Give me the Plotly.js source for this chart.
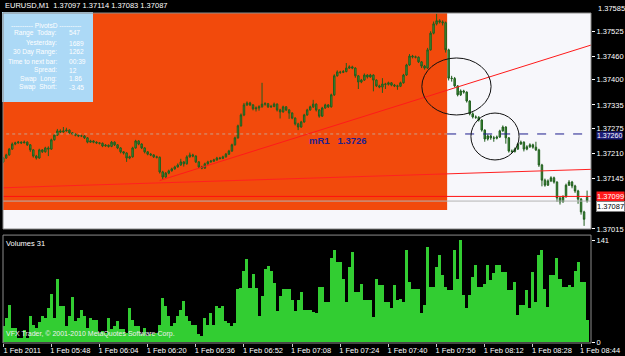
<!DOCTYPE html>
<html>
<head>
<meta charset="utf-8">
<script src="https://cdn.plot.ly/plotly-3.0.1.min.js"></script>
<style>html,body{margin:0;padding:0;background:#000;}#chart{width:625px;height:356px;}</style>
</head>
<body>
<div id="chart"></div>
<script>
const DAY = '2011-02-01 ';
const times = ['05:32','05:33','05:34','05:35','05:36','05:37','05:38','05:39','05:40','05:41','05:42','05:43','05:44','05:45','05:46','05:47','05:48','05:49','05:50','05:51','05:52','05:53','05:54','05:55','05:56','05:57','05:58','05:59',
'06:00','06:01','06:02','06:03','06:04','06:05','06:06','06:07','06:08','06:09','06:10','06:11','06:12','06:13','06:14','06:15','06:16','06:17','06:18','06:19','06:20','06:21','06:22','06:23','06:24','06:25','06:26','06:27','06:28','06:29','06:30','06:31','06:32','06:33','06:34','06:35','06:36','06:37','06:38','06:39','06:40','06:41','06:42','06:43','06:44','06:45','06:46','06:47','06:48','06:49','06:50','06:51','06:52','06:53','06:54','06:55','06:56','06:57','06:58','06:59',
'07:00','07:01','07:02','07:03','07:04','07:05','07:06','07:07','07:08','07:09','07:10','07:11','07:12','07:13','07:14','07:15','07:16','07:17','07:18','07:19','07:20','07:21','07:22','07:23','07:24','07:25','07:26','07:27','07:28','07:29','07:30','07:31','07:32','07:33','07:34','07:35','07:36','07:37','07:38','07:39','07:40','07:41','07:42','07:43','07:44','07:45','07:46','07:47','07:48','07:49','07:50','07:51','07:52','07:53','07:54','07:55','07:56','07:57','07:58','07:59',
'08:00','08:01','08:02','08:03','08:04','08:05','08:06','08:07','08:08','08:09','08:10','08:11','08:12','08:13','08:14','08:15','08:16','08:17','08:18','08:19','08:20','08:21','08:22','08:23','08:24','08:25','08:26','08:27','08:28','08:29','08:30','08:31','08:32','08:33','08:34','08:35','08:36','08:37','08:38','08:39','08:40','08:41','08:42','08:43','08:44','08:45','08:46'];

const openP = [1.37188,1.37198,1.37206,1.37221,1.37234,1.37237,1.37239,1.37237,1.37239,1.37232,
1.37219,1.37203,1.37198,1.37219,1.37214,1.37224,1.37221,1.37245,1.37257,1.37268,
1.37265,1.37268,1.37270,1.37263,1.37260,1.37257,1.37255,1.37255,1.37250,1.37239,
1.37242,1.37239,1.37237,1.37236,1.37229,1.37231,1.37228,1.37239,1.37232,1.37224,
1.37214,1.37211,1.37198,1.37201,1.37224,1.37242,1.37234,1.37224,1.37214,1.37208,
1.37206,1.37201,1.37200,1.37162,1.37149,1.37159,1.37165,1.37170,1.37175,1.37180,
1.37188,1.37183,1.37201,1.37206,1.37203,1.37188,1.37175,1.37172,1.37183,1.37188,
1.37190,1.37193,1.37198,1.37197,1.37201,1.37208,1.37216,1.37232,1.37250,1.37281,
1.37309,1.37335,1.37340,1.37335,1.37325,1.37327,1.37330,1.37337,1.37338,1.37330,
1.37331,1.37337,1.37322,1.37317,1.37330,1.37322,1.37314,1.37301,1.37286,1.37278,
1.37291,1.37309,1.37322,1.37330,1.37337,1.37322,1.37306,1.37327,1.37335,1.37330,
1.37361,1.37410,1.37420,1.37419,1.37421,1.37430,1.37433,1.37430,1.37410,1.37394,
1.37399,1.37412,1.37407,1.37412,1.37399,1.37384,1.37381,1.37389,1.37388,1.37392,
1.37386,1.37384,1.37383,1.37392,1.37412,1.37438,1.37461,1.37459,1.37458,1.37446,
1.37435,1.37430,1.37477,1.37520,1.37544,1.37552,1.37549,1.37547,1.37477,1.37404,
1.37403,1.37384,1.37361,1.37371,1.37368,1.37345,1.37312,1.37304,1.37303,1.37296,
1.37270,1.37247,1.37255,1.37250,1.37249,1.37252,1.37268,1.37278,1.37250,1.37216,
1.37215,1.37221,1.37234,1.37239,1.37221,1.37227,1.37232,1.37226,1.37219,1.37180,
1.37141,1.37128,1.37139,1.37147,1.37136,1.37095,1.37085,1.37098,1.37128,1.37136,
1.37126,1.37113,1.37092,1.37059,1.37097];

const highP = [1.37201,1.37209,1.37224,1.37238,1.37240,1.37242,1.37241,1.37243,1.37241,1.37234,
1.37221,1.37206,1.37222,1.37221,1.37227,1.37228,1.37248,1.37260,1.37273,1.37272,
1.37278,1.37276,1.37272,1.37265,1.37262,1.37259,1.37258,1.37257,1.37252,1.37245,
1.37244,1.37241,1.37239,1.37238,1.37234,1.37233,1.37242,1.37241,1.37234,1.37226,
1.37216,1.37213,1.37204,1.37227,1.37245,1.37244,1.37236,1.37226,1.37216,1.37211,
1.37208,1.37204,1.37202,1.37165,1.37162,1.37168,1.37173,1.37178,1.37184,1.37196,
1.37190,1.37205,1.37212,1.37209,1.37205,1.37190,1.37178,1.37186,1.37191,1.37193,
1.37196,1.37201,1.37201,1.37204,1.37211,1.37219,1.37235,1.37253,1.37284,1.37313,
1.37340,1.37344,1.37343,1.37337,1.37331,1.37334,1.37392,1.37342,1.37340,1.37335,
1.37341,1.37339,1.37325,1.37333,1.37332,1.37324,1.37316,1.37303,1.37289,1.37294,
1.37312,1.37325,1.37333,1.37348,1.37339,1.37324,1.37330,1.37338,1.37337,1.37364,
1.37414,1.37424,1.37423,1.37425,1.37443,1.37437,1.37436,1.37432,1.37412,1.37402,
1.37416,1.37414,1.37415,1.37414,1.37401,1.37387,1.37404,1.37392,1.37395,1.37394,
1.37389,1.37387,1.37395,1.37415,1.37441,1.37466,1.37464,1.37462,1.37460,1.37448,
1.37438,1.37482,1.37525,1.37550,1.37570,1.37556,1.37553,1.37550,1.37480,1.37410,
1.37407,1.37386,1.37375,1.37374,1.37370,1.37347,1.37316,1.37308,1.37306,1.37298,
1.37272,1.37259,1.37258,1.37255,1.37256,1.37271,1.37282,1.37280,1.37252,1.37220,
1.37225,1.37237,1.37243,1.37241,1.37231,1.37236,1.37235,1.37240,1.37222,1.37183,
1.37145,1.37143,1.37151,1.37150,1.37138,1.37098,1.37102,1.37132,1.37141,1.37139,
1.37129,1.37116,1.37095,1.37062,1.37114];

const lowP = [1.37185,1.37196,1.37204,1.37219,1.37231,1.37235,1.37234,1.37236,1.37229,1.37214,
1.37199,1.37194,1.37196,1.37211,1.37212,1.37203,1.37219,1.37243,1.37255,1.37262,
1.37263,1.37266,1.37260,1.37257,1.37254,1.37252,1.37252,1.37247,1.37236,1.37237,
1.37236,1.37234,1.37233,1.37226,1.37227,1.37225,1.37226,1.37229,1.37221,1.37210,
1.37207,1.37188,1.37195,1.37199,1.37222,1.37231,1.37221,1.37210,1.37205,1.37203,
1.37198,1.37197,1.37158,1.37142,1.37147,1.37156,1.37163,1.37168,1.37173,1.37178,
1.37176,1.37181,1.37199,1.37200,1.37185,1.37172,1.37169,1.37170,1.37181,1.37186,
1.37188,1.37191,1.37194,1.37195,1.37199,1.37206,1.37214,1.37230,1.37248,1.37279,
1.37306,1.37332,1.37332,1.37321,1.37318,1.37320,1.37328,1.37333,1.37327,1.37327,
1.37329,1.37318,1.37300,1.37315,1.37319,1.37299,1.37298,1.37282,1.37270,1.37276,
1.37289,1.37307,1.37320,1.37327,1.37318,1.37302,1.37304,1.37325,1.37327,1.37328,
1.37358,1.37408,1.37415,1.37417,1.37419,1.37428,1.37427,1.37405,1.37376,1.37391,
1.37397,1.37403,1.37405,1.37370,1.37381,1.37378,1.37366,1.37376,1.37385,1.37383,
1.37381,1.37374,1.37381,1.37390,1.37410,1.37436,1.37455,1.37455,1.37443,1.37430,
1.37426,1.37428,1.37475,1.37517,1.37540,1.37545,1.37540,1.37470,1.37398,1.37395,
1.37380,1.37357,1.37358,1.37364,1.37341,1.37308,1.37300,1.37299,1.37292,1.37266,
1.37240,1.37243,1.37245,1.37240,1.37246,1.37250,1.37266,1.37235,1.37212,1.37211,
1.37212,1.37219,1.37232,1.37215,1.37218,1.37224,1.37222,1.37216,1.37175,1.37125,
1.37124,1.37126,1.37136,1.37132,1.37085,1.37078,1.37083,1.37096,1.37126,1.37120,
1.37108,1.37080,1.37052,1.37023,1.37083];

const closeP = [1.37198,1.37206,1.37221,1.37234,1.37237,1.37239,1.37237,1.37239,1.37232,1.37219,
1.37203,1.37198,1.37219,1.37214,1.37224,1.37221,1.37245,1.37257,1.37268,1.37265,
1.37268,1.37270,1.37263,1.37260,1.37257,1.37255,1.37255,1.37250,1.37239,1.37242,
1.37239,1.37237,1.37236,1.37229,1.37231,1.37228,1.37239,1.37232,1.37224,1.37214,
1.37211,1.37198,1.37201,1.37224,1.37242,1.37234,1.37224,1.37214,1.37208,1.37206,
1.37201,1.37200,1.37162,1.37149,1.37159,1.37165,1.37170,1.37175,1.37180,1.37188,
1.37183,1.37201,1.37206,1.37203,1.37188,1.37175,1.37172,1.37183,1.37188,1.37190,
1.37193,1.37198,1.37197,1.37201,1.37208,1.37216,1.37232,1.37250,1.37281,1.37309,
1.37335,1.37340,1.37335,1.37325,1.37327,1.37330,1.37337,1.37338,1.37330,1.37331,
1.37337,1.37322,1.37317,1.37330,1.37322,1.37314,1.37301,1.37286,1.37278,1.37291,
1.37309,1.37322,1.37330,1.37337,1.37322,1.37306,1.37327,1.37335,1.37330,1.37361,
1.37410,1.37420,1.37419,1.37421,1.37430,1.37433,1.37430,1.37410,1.37394,1.37399,
1.37412,1.37407,1.37412,1.37399,1.37384,1.37381,1.37389,1.37388,1.37392,1.37386,
1.37384,1.37383,1.37392,1.37412,1.37438,1.37461,1.37459,1.37458,1.37446,1.37435,
1.37430,1.37477,1.37520,1.37544,1.37552,1.37549,1.37547,1.37477,1.37404,1.37403,
1.37384,1.37361,1.37371,1.37368,1.37345,1.37312,1.37304,1.37303,1.37296,1.37270,
1.37247,1.37255,1.37250,1.37249,1.37252,1.37268,1.37278,1.37250,1.37216,1.37215,
1.37221,1.37234,1.37239,1.37221,1.37227,1.37232,1.37226,1.37219,1.37180,1.37141,
1.37128,1.37139,1.37147,1.37136,1.37095,1.37085,1.37098,1.37128,1.37136,1.37126,
1.37113,1.37092,1.37059,1.37040,1.37087];

const volumes = [22,34,52,20,20,6,6,17,6,36, 24,20,28,36,34,47,67,34,88,50,
50,22,36,62,29,34,45,36,20,34, 31,31,13,15,13,34,18,22,29,18,
18,13,47,31,22,22,11,20,8,11, 11,13,24,61,50,36,22,27,36,45,
57,36,29,24,24,11,8,34,24,41, 24,50,47,50,29,27,22,27,73,75,
98,115,75,94,75,36,64,101,106,98, 82,43,64,73,74,74,59,43,59,
70,44,44,44,42,40,76,76,56,56, 116,127,111,111,88,56,104,125,70,70,
81,58,58,58,35,88,79,79,56,56, 47,79,58,60,56,127,83,74,74,74,
40,51,132,76,76,104,120,93,76,72, 72,127,88,141,65,47,65,90,107,76,
76,81,107,86,95,107,107,97,97,72, 72,83,37,51,51,72,47,97,56,120,
127,74,49,93,93,116,88,76,76,79, 76,99,111,83,83,31];

// axis ticks
const xTickTimes = ['05:32','05:48','06:04','06:20','06:36','06:52','07:08','07:24','07:40','07:56','08:12','08:28','08:44'];
const xTickLabels = ['1 Feb 2011','1 Feb 05:48','1 Feb 06:04','1 Feb 06:20','1 Feb 06:36','1 Feb 06:52','1 Feb 07:08','1 Feb 07:24','1 Feb 07:40','1 Feb 07:56','1 Feb 08:12','1 Feb 08:28','1 Feb 08:44'];
const priceTicks = [1.37525,1.37460,1.37400,1.37335,1.37275,1.37210,1.37145,1.37015];
const topPriceLabel = '1.37585';
const volTicks = [0,141];

// drawn objects
const trendA = {t:['06:24','08:48'], p:[1.37140,1.37491]};
const trendB = {t:['05:31','08:48'], p:[1.37121,1.37169]};
const redLevel = 1.37099;
const bidLevel = 1.37087;
const pivotLevel = 1.37260;
const pivotLabel = 'mR1   1.3726';
const pivotLabelAt = {t:'07:13', p:1.37243};
const sessionBox = {t0:'05:31', t1:'07:59:30', p0:1.37064, p1:1.37600};
const circles = [{t0:'07:51:06', t1:'08:14:06', p0:1.37309, p1:1.37456},
                 {t0:'08:07:24', t1:'08:23:24', p0:1.37193, p1:1.37314}];
const xRange = ['05:31:56','08:47:18'];
const titleText = 'EURUSD,M1  1.37097 1.37114 1.37083 1.37087';
const infoLabels = ['Range  Today:','Yesterday:','30 Day Range:','Time to next bar:','Spread:','Swap  Long:','Swap  Short:'];
const infoValues = ['547','1689','1262','00:39','12','1.86','-3.45'];
const infoHeader = '---------- PivotsD ----------';
const volTitle = 'Volumes 31';
const copyright = 'VFX Trader, \u00a9 2001-2010 MetaQuotes Software Corp.';

const T = s => DAY + s;
const X = times.map(T);
const FONT = 'Liberation Sans, Arial, sans-serif';

// pixel helpers for fixed-UI pieces (panel geometry)
const W = 625, H = 356, ML = 3, MR = 34, MT = 13, MB = 13;
const PW = W - ML - MR, PH = H - MT - MB;
const px = x => (x - ML) / PW;
const py = y => (H - MB - y) / PH;

const traces = [];
traces.push({type:'scatter', mode:'lines', x:trendB.t.map(T), y:trendB.p, line:{color:'#ff2020', width:1}, yaxis:'y', hoverinfo:'skip'});
traces.push({type:'scatter', mode:'lines', x:[T('05:31'), T('08:48')], y:[bidLevel,bidLevel], line:{color:'#b4b4b4', width:1}, yaxis:'y', hoverinfo:'skip'});
traces.push({type:'scatter', mode:'lines', x:[T('05:31'), T('08:48')], y:[redLevel,redLevel], line:{color:'#ff1010', width:1}, yaxis:'y', hoverinfo:'skip'});
traces.push({type:'scatter', mode:'lines', x:[T('05:31'), T(sessionBox.t1)], y:[pivotLevel,pivotLevel], line:{color:'#c9a08a', width:1, dash:'dot'}, yaxis:'y', hoverinfo:'skip'});
traces.push({type:'scatter', mode:'lines', x:[T(sessionBox.t1), T('08:48')], y:[pivotLevel,pivotLevel], line:{color:'#1c1c8c', width:1, dash:'dash'}, yaxis:'y', hoverinfo:'skip'});
traces.push({type:'scatter', mode:'lines', x:trendA.t.map(T), y:trendA.p, line:{color:'#ff1a1a', width:1}, yaxis:'y', hoverinfo:'skip'});
traces.push({type:'candlestick', x:X, open:openP, high:highP, low:lowP, close:closeP,
  increasing:{line:{color:'#215e1e', width:1}, fillcolor:'#3f9636'},
  decreasing:{line:{color:'#215e1e', width:1}, fillcolor:'#3f9636'},
  whiskerwidth:0, yaxis:'y', xaxis:'x', hoverinfo:'skip'});
traces.push({type:'bar', x:X, y:volumes, yaxis:'y2', xaxis:'x', marker:{color:'#32cd32', line:{width:0}}, hoverinfo:'skip'});

const shapes = [
  {type:'rect', xref:'paper', yref:'y domain', x0:0, x1:1, y0:0, y1:1, fillcolor:'#f7f7fb', line:{width:0}, layer:'below'},
  {type:'rect', xref:'x', yref:'y', x0:T(sessionBox.t0), x1:T(sessionBox.t1), y0:sessionBox.p0, y1:sessionBox.p1, fillcolor:'#f24a0c', line:{width:0}, layer:'below'},
  {type:'rect', xref:'paper', yref:'paper', x0:px(2), x1:px(93), y0:py(102), y1:py(12), fillcolor:'#acd9f6', line:{width:0}, layer:'above'},
  {type:'rect', xref:'paper', yref:'y domain', x0:0, x1:1, y0:0, y1:1, fillcolor:'rgba(0,0,0,0)', line:{color:'#8c8c8c', width:1}, layer:'above'},
  {type:'rect', xref:'paper', yref:'y2 domain', x0:0, x1:1, y0:0, y1:1, fillcolor:'rgba(0,0,0,0)', line:{color:'#8c8c8c', width:1}, layer:'above'}
];
circles.forEach(c => shapes.push({type:'circle', xref:'x', yref:'y', x0:T(c.t0), x1:T(c.t1), y0:c.p0, y1:c.p1, line:{color:'#111', width:1}, fillcolor:'rgba(0,0,0,0)'}));

const small = {family:FONT, size:7.5, color:'#ffffff'};
const info = {family:FONT, size:6.6, color:'#ffffff'};
const annotations = [
  {xref:'paper', yref:'paper', x:px(3), y:py(6), xanchor:'left', yanchor:'middle', text:titleText, showarrow:false, font:small},
  {xref:'paper', yref:'paper', x:1, y:py(8), xanchor:'left', yanchor:'middle', xshift:5, text:topPriceLabel, showarrow:false, font:small},
  {xref:'paper', yref:'paper', x:px(46), y:py(25), xanchor:'center', yanchor:'middle', text:infoHeader, showarrow:false, font:info},
  {xref:'x', yref:'y', x:T(pivotLabelAt.t), y:pivotLabelAt.p, xanchor:'left', yanchor:'middle', text:'<b>'+pivotLabel+'</b>', showarrow:false, font:{family:FONT, size:9.5, color:'#22228e'}},
  {xref:'paper', yref:'paper', x:px(4), y:py(243), xanchor:'left', yanchor:'middle', text:volTitle, showarrow:false, font:small},
  {xref:'paper', yref:'paper', x:px(4), y:py(334), xanchor:'left', yanchor:'middle', text:copyright, showarrow:false, font:{family:FONT, size:7, color:'#f0f0f0'}},
  {xref:'paper', yref:'y', x:1, y:pivotLevel, xanchor:'left', yanchor:'top', yshift:3, xshift:5, text:'1.37260', showarrow:false, bgcolor:'#1c1c78', font:{family:FONT, size:7, color:'#ffffff'}, borderpad:0},
  {xref:'paper', yref:'y', x:1, y:redLevel, xanchor:'left', yanchor:'middle', xshift:5, text:'1.37099', showarrow:false, bgcolor:'#ff1a1a', font:small, borderpad:0},
  {xref:'paper', yref:'y', x:1, y:bidLevel, xanchor:'left', yanchor:'top', xshift:5, text:'1.37087', showarrow:false, bgcolor:'#ffffff', bordercolor:'#808080', borderwidth:1, font:{family:FONT, size:7.5, color:'#000'}, borderpad:0}
];
const rowsY = [33,43,52,61,70,79,87];
infoLabels.forEach((l,i) => {
  annotations.push({xref:'paper', yref:'paper', x:px(59), y:py(rowsY[i]), xanchor:'right', yanchor:'middle', text:l, showarrow:false, font:info});
  annotations.push({xref:'paper', yref:'paper', x:px(67), y:py(rowsY[i]), xanchor:'left', yanchor:'middle', text:infoValues[i], showarrow:false, font:info});
});

const layout = {
  width:W, height:H, showlegend:false,
  paper_bgcolor:'#000000', plot_bgcolor:'#000000',
  margin:{l:ML, r:MR, t:MT, b:MB, pad:0},
  bargap:0,
  xaxis:{type:'date', range:xRange.map(T), anchor:'y2', rangeslider:{visible:false},
    tickvals:xTickTimes.map(T), ticktext:xTickLabels, ticks:'outside', ticklen:3, tickcolor:'#c8c8c8',
    tickfont:{family:FONT, size:7.5, color:'#ffffff'}, ticklabelshift:19, ticklabelstandoff:-3, showgrid:false, zeroline:false, showline:false},
  yaxis:{domain:[0.3455,1], range:[1.37015,1.37572], side:'right', tickvals:priceTicks, tickformat:'.5f',
    ticks:'outside', ticklen:3, tickcolor:'#ffffff', tickfont:small, showgrid:false, zeroline:false, showline:false},
  yaxis2:{domain:[0,0.327], range:[-1,148], side:'right', tickvals:volTicks, ticks:'outside', ticklen:3, tickcolor:'#ffffff',
    tickfont:small, showgrid:false, zeroline:false, showline:false},
  shapes:shapes, annotations:annotations
};

Plotly.newPlot('chart', traces, layout, {staticPlot:true, displayModeBar:false});
</script>
</body>
</html>
